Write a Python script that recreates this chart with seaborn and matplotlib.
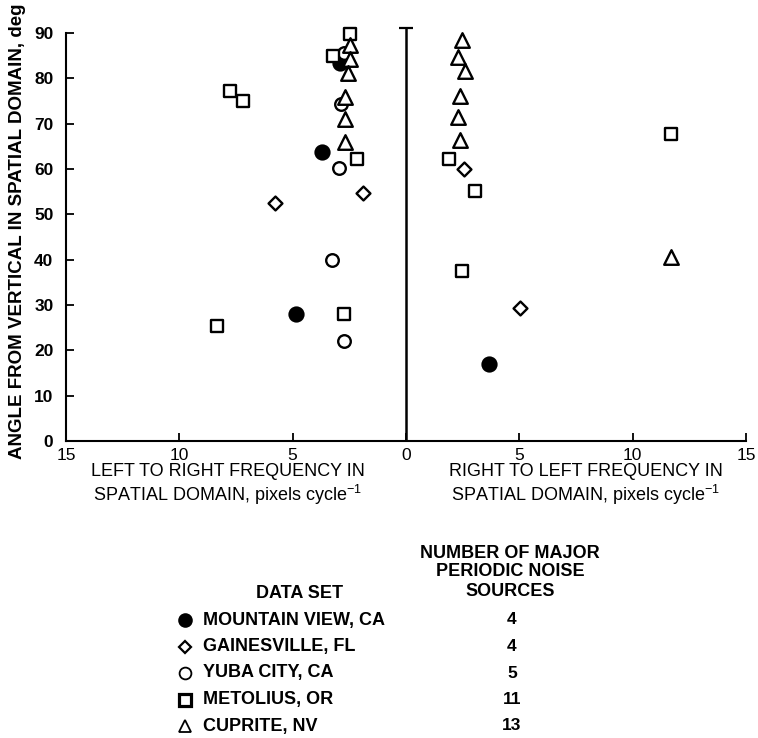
import matplotlib
matplotlib.use("Agg")
import matplotlib.pyplot as plt
import seaborn as sns
import pandas as pd
from matplotlib.lines import Line2D

# ---------------- data ----------------
datasets = ["MOUNTAIN VIEW, CA", "GAINESVILLE, FL", "YUBA CITY, CA",
            "METOLIUS, OR", "CUPRITE, NV"]
noise_sources = [4, 4, 5, 11, 13]

# signed frequency: negative = left-to-right, positive = right-to-left
mountain_view_x = [-2.9, -3.7, -4.85, 3.65]
mountain_view_y = [83.5, 63.8, 28.0, 17.0]

gainesville_x = [-5.8, -1.9, 2.55, 5.05]
gainesville_y = [52.5, 54.7, 60.0, 29.4]

yuba_city_x = [-2.75, -2.85, -2.95, -3.25, -2.75]
yuba_city_y = [85.6, 74.4, 60.3, 40.0, 22.1]

metolius_x = [-2.45, -3.2, -7.75, -7.2, -2.15, -8.35, -2.75, 1.9, 3.05, 11.7, 2.45]
metolius_y = [89.8, 85.0, 77.3, 75.0, 62.3, 25.4, 28.0, 62.3, 55.2, 67.7, 37.5]

cuprite_x = [-2.45, -2.45, -2.55, -2.7, -2.7, -2.7,
             2.45, 2.3, 2.6, 2.4, 2.3, 2.4, 11.7]
cuprite_y = [87.4, 84.2, 81.2, 76.0, 71.1, 65.9,
             88.5, 84.8, 81.7, 76.2, 71.4, 66.3, 40.7]

x_ticks = [-15, -10, -5, 0, 5, 10, 15]
x_tick_labels = ["15", "10", "5", "0", "5", "10", "15"]
y_ticks = [0, 10, 20, 30, 40, 50, 60, 70, 80, 90]

# ---------------- styling ----------------
sns.set_style("ticks")
FONT = ["Liberation Sans", "DejaVu Sans"]
plt.rcParams["font.family"] = FONT
plt.rcParams["text.color"] = "black"
plt.rcParams["axes.labelcolor"] = "black"
plt.rcParams["xtick.color"] = "black"
plt.rcParams["ytick.color"] = "black"
plt.rcParams["mathtext.fontset"] = "custom"
plt.rcParams["mathtext.rm"] = "Liberation Sans"
plt.rcParams["mathtext.it"] = "Liberation Sans:italic"
plt.rcParams["mathtext.bf"] = "Liberation Sans:bold"

markers = ["o", "D", "o", "s", "^"]
faces = ["black", "white", "white", "white", "white"]
sizes = [100, 50, 82, 85, 110]

xs = [mountain_view_x, gainesville_x, yuba_city_x, metolius_x, cuprite_x]
ys = [mountain_view_y, gainesville_y, yuba_city_y, metolius_y, cuprite_y]
frames = []
for name, xv, yv in zip(datasets, xs, ys):
    frames.append(pd.DataFrame({"freq": xv, "angle": yv, "dataset": name}))
df = pd.concat(frames, ignore_index=True)

W, H = 758, 738
fig = plt.figure(figsize=(W / 100, H / 100), dpi=100)
ax = fig.add_axes([66 / W, 1 - 441 / H, 680 / W, (441 - 24) / H])

for i, name in enumerate(datasets):
    sub = df[df["dataset"] == name]
    sns.scatterplot(data=sub, x="freq", y="angle", marker=markers[i],
                    s=sizes[i], facecolor=faces[i], edgecolor="black",
                    linewidth=1.7, ax=ax, legend=False, zorder=3 + i)

ax.set_xlim(-15, 15)
ax.set_ylim(0, 92)
ax.set_xticks(x_ticks)
ax.set_xticklabels(x_tick_labels)
ax.set_yticks(y_ticks)
ax.set_xlabel("")
ax.set_ylabel("")

for side in ["top", "right"]:
    ax.spines[side].set_visible(False)
for side in ["left", "bottom"]:
    ax.spines[side].set_linewidth(1.5)
    ax.spines[side].set_color("black")
ax.spines["left"].set_bounds(0, 90)

ax.tick_params(axis="both", direction="in", length=6, width=1.3, colors="black")
ax.tick_params(axis="x", pad=5, labelsize=12.5)
ax.tick_params(axis="y", pad=9, labelsize=12.5)
for lab in ax.get_yticklabels():
    lab.set_fontweight("bold")

# central divider
ax.vlines(0, 0, 91.2, color="black", linewidth=1.8, zorder=2)
ax.plot([0], [91.2], marker="_", markersize=10, markeredgewidth=1.6,
        color="black", zorder=2)

def ftext(x, y, s, **kw):
    fig.text(x / W, 1 - y / H, s, color="black", **kw)

# axis labels
ftext(18, 231, "ANGLE FROM VERTICAL IN SPATIAL DOMAIN, deg", rotation=90,
      ha="center", va="center", fontsize=13.5, fontweight="bold")
ftext(228, 471, "LEFT TO RIGHT FREQUENCY IN", ha="center", va="center", fontsize=13)
ftext(228, 495, r"SPATIAL DOMAIN, pixels cycle$^{-1}$", ha="center",
      va="center", fontsize=13)
ftext(586, 471, "RIGHT TO LEFT FREQUENCY IN", ha="center", va="center", fontsize=13)
ftext(586, 495, r"SPATIAL DOMAIN, pixels cycle$^{-1}$", ha="center",
      va="center", fontsize=13)

# legend table
ftext(300, 593, "DATA SET", ha="center", va="center", fontsize=13, fontweight="bold")
ftext(510, 553, "NUMBER OF MAJOR", ha="center", va="center", fontsize=13, fontweight="bold")
ftext(510, 572, "PERIODIC NOISE", ha="center", va="center", fontsize=13, fontweight="bold")
ftext(510, 592, "SOURCES", ha="center", va="center", fontsize=13, fontweight="bold")

leg_markers = ["o", "D", "o", "s", "^"]
leg_ms = [9, 6.5, 8.5, 8.5, 8.5]
leg_lw = [1.5, 1.6, 1.3, 2.3, 1.3]
for i, name in enumerate(datasets):
    yy = 620 + 26.5 * i
    fig.add_artist(Line2D([185 / W], [1 - yy / H], transform=fig.transFigure,
                          marker=leg_markers[i], markersize=leg_ms[i],
                          markerfacecolor=faces[i], markeredgecolor="black",
                          markeredgewidth=leg_lw[i], linestyle="none"))
    ftext(203, yy, name, ha="left", va="center", fontsize=13, fontweight="bold")
    ftext(512, yy, str(noise_sources[i]), ha="center", va="center",
          fontsize=12.5, fontweight="bold")

fig.savefig("out.png", dpi=100)
